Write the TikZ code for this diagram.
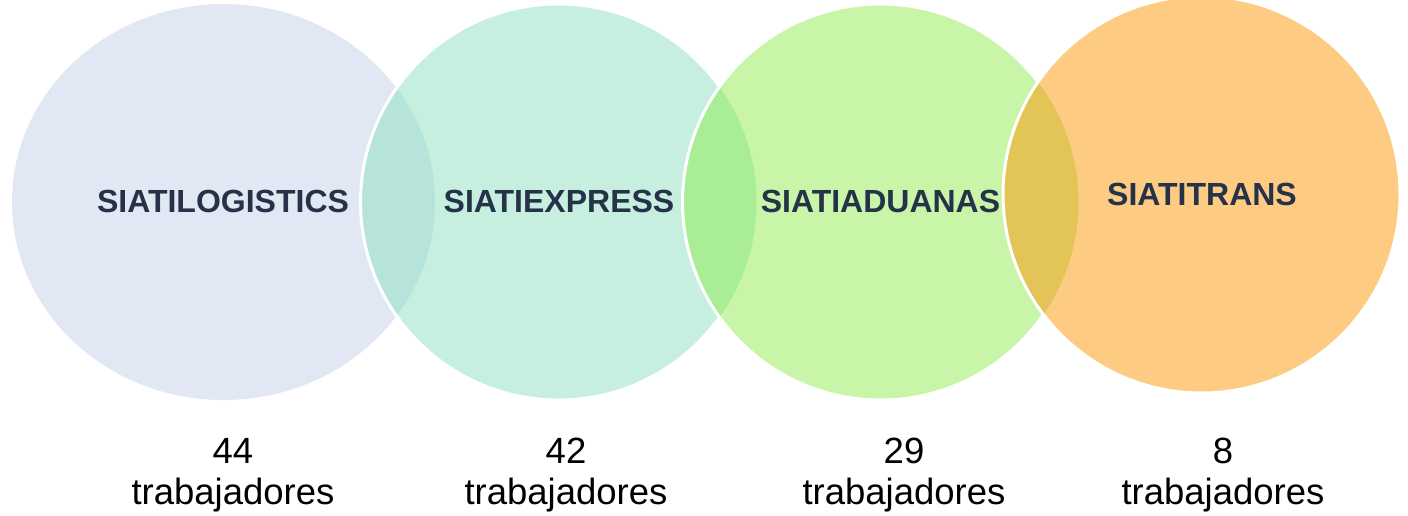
\documentclass[tikz,border=0pt]{standalone}
\usepackage{fontspec}
\setmainfont{Liberation Sans}
\definecolor{cA}{HTML}{E1E8F3}
\definecolor{cB}{HTML}{C6EFE0}
\definecolor{cAB}{HTML}{B7E4DA}
\definecolor{cC}{HTML}{C8F5A8}
\definecolor{cBC}{HTML}{AAED97}
\definecolor{cD}{HTML}{FECB82}
\definecolor{cCD}{HTML}{E2C556}
\definecolor{navy}{HTML}{253248}
\begin{document}
\begin{tikzpicture}[x=1pt,y=-1pt,
  title/.style={font=\bfseries\fontsize{32}{38}\selectfont, text=navy, inner sep=0pt, anchor=base},
  num/.style={font=\fontsize{36.5}{44}\selectfont, text=black, inner sep=0pt, anchor=base},
  ring/.style={draw=white, line width=3pt}]
\useasboundingbox (0,0) rectangle (1408,515);
\clip (0,0) rectangle (1408,515);
% circle 1
\fill[cA] (223.5,202) ellipse [x radius=211.5, y radius=198];
% circle 2
\fill[cB] (558.5,202) circle [radius=198];
\begin{scope}
  \clip (223.5,202) ellipse [x radius=211.5, y radius=198];
  \fill[cAB] (558.5,202) circle [radius=198];
\end{scope}
\draw[ring] (558.5,202) circle [radius=198];
% circle 3
\fill[cC] (880.5,202) circle [radius=198];
\begin{scope}
  \clip (558.5,202) circle [radius=198];
  \fill[cBC] (880.5,202) circle [radius=198];
\end{scope}
\draw[ring] (880.5,202) circle [radius=198];
% circle 4
\fill[cD] (1201.5,194.5) circle [radius=198.5];
\begin{scope}
  \clip (880.5,202) circle [radius=198];
  \fill[cCD] (1201.5,194.5) circle [radius=198.5];
\end{scope}
\draw[ring] (1201.5,194.5) circle [radius=198.5];
% titles
\node[title] (t1) at (223,212) {SIATILOGISTICS};
\node[title] (t2) at (559,212) {SIATIEXPRESS};
\node[title] (t3) at (880.5,212) {SIATIADUANAS};
\node[title] (t4) at (1202,205) {SIATITRANS};
% counts
\node[num] (n1) at (233,463) {44};
\node[num] (w1) at (233,504) {trabajadores};
\node[num] (n2) at (566,463) {42};
\node[num] (w2) at (566,504) {trabajadores};
\node[num] (n3) at (904,463) {29};
\node[num] (w3) at (904,504) {trabajadores};
\node[num] (n4) at (1223,463) {8};
\node[num] (w4) at (1223,504) {trabajadores};
\end{tikzpicture}
\end{document}
